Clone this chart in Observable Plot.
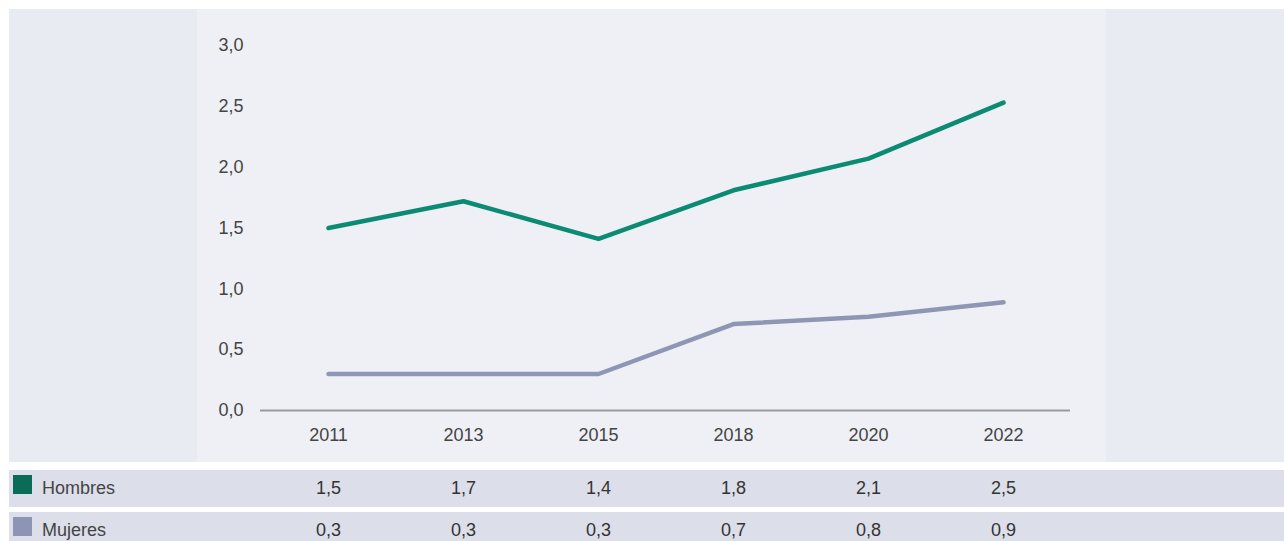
<!DOCTYPE html>
<html>
<head>
<meta charset="utf-8">
<script src="https://cdn.jsdelivr.net/npm/d3@7"></script>
<script src="https://cdn.jsdelivr.net/npm/@observablehq/plot@0.6"></script>
<style>
  html, body { margin: 0; padding: 0; background: #ffffff; }
  #wrap { position: relative; width: 1284px; height: 541px; overflow: hidden; font-family: "Liberation Sans", Arial, sans-serif; }
  .bg { position: absolute; }
  .abs { position: absolute; left: 0; }
  .sw { position: absolute; left: 13px; width: 19px; height: 19px; }
  .lt { position: absolute; left: 42px; font-size: 18px; color: #444; line-height: 20px; }
</style>
</head>
<body>
<div id="wrap">
  <div class="bg" style="left:9px;top:9px;width:1275px;height:453px;background:#e9ebf3"></div>
  <div class="bg" style="left:197px;top:9px;width:909px;height:453px;background:#eef0f5"></div>
  <div class="bg" style="left:9px;top:470px;width:1275px;height:37px;background:#dcdee9"></div>
  <div class="bg" style="left:9px;top:512px;width:1275px;height:29px;background:#dcdee9"></div>
  <div id="chart" class="abs" style="top:9px"></div>
  <div id="table" class="abs" style="top:462px"></div>
  <div id="legend"></div>
</div>
<script>
const years = ["2011", "2013", "2015", "2018", "2020", "2022"];
const seriesNames = ["Hombres", "Mujeres"];
const hombres = [1.5, 1.72, 1.41, 1.81, 2.07, 2.53];
const mujeres = [0.3, 0.3, 0.3, 0.71, 0.77, 0.89];
const hombresLabels = ["1,5", "1,7", "1,4", "1,8", "2,1", "2,5"];
const mujeresLabels = ["0,3", "0,3", "0,3", "0,7", "0,8", "0,9"];
const yTicks = [0, 0.5, 1, 1.5, 2, 2.5, 3];
const lineColors = ["#0b8b72", "#8e96b3"];
const swatchColors = ["#0b6b57", "#8e94b5"];

const data = [
  ...years.map((y, i) => ({year: y, value: hombres[i], serie: seriesNames[0]})),
  ...years.map((y, i) => ({year: y, value: mujeres[i], serie: seriesNames[1]}))
];
const tableData = [
  ...years.map((y, i) => ({year: y, label: hombresLabels[i], serie: seriesNames[0]})),
  ...years.map((y, i) => ({year: y, label: mujeresLabels[i], serie: seriesNames[1]}))
];
const fmt = d => d.toFixed(1).replace(".", ",");
const xScale = {type: "point", domain: years, padding: 0.5};

const chart = Plot.plot({
  width: 1284,
  height: 453,
  marginLeft: 260,
  marginRight: 214,
  marginTop: 36,
  marginBottom: 52,
  style: {background: "transparent", fontFamily: "Liberation Sans, Arial, sans-serif", fontSize: "18px", color: "#444"},
  x: {...xScale, label: null},
  y: {domain: [0, 3], ticks: yTicks, label: null},
  color: {domain: seriesNames, range: lineColors},
  marks: [
    Plot.axisY({ticks: yTicks, tickFormat: fmt, tickSize: 0, tickPadding: 17, label: null, fill: "#444"}),
    Plot.axisX({tickSize: 0, tickPadding: 18, label: null, fill: "#444"}),
    Plot.ruleY([0], {stroke: "#9a9a9a", strokeWidth: 2}),
    Plot.line(data, {x: "year", y: "value", z: "serie", stroke: "serie", strokeWidth: 4.5, strokeLinecap: "round", strokeLinejoin: "round"})
  ]
});
document.getElementById("chart").appendChild(chart);

const table = Plot.plot({
  width: 1284,
  height: 79,
  marginLeft: 260,
  marginRight: 214,
  marginTop: 0,
  marginBottom: 0,
  style: {background: "transparent", fontFamily: "Liberation Sans, Arial, sans-serif", fontSize: "18px"},
  x: {...xScale, axis: null},
  y: {type: "point", domain: seriesNames, range: [26, 68], padding: 0, axis: null},
  marks: [
    Plot.text(tableData, {x: "year", y: "serie", text: "label", fill: "#333", fontSize: 18})
  ]
});
document.getElementById("table").appendChild(table);

const legend = document.getElementById("legend");
const swTops = [475, 517];
const textTops = [478, 520];
seriesNames.forEach((s, i) => {
  const sw = document.createElement("div");
  sw.className = "sw";
  sw.style.top = swTops[i] + "px";
  sw.style.background = swatchColors[i];
  legend.appendChild(sw);
  const t = document.createElement("div");
  t.className = "lt";
  t.style.top = textTops[i] + "px";
  t.textContent = s;
  legend.appendChild(t);
});
</script>
</body>
</html>
